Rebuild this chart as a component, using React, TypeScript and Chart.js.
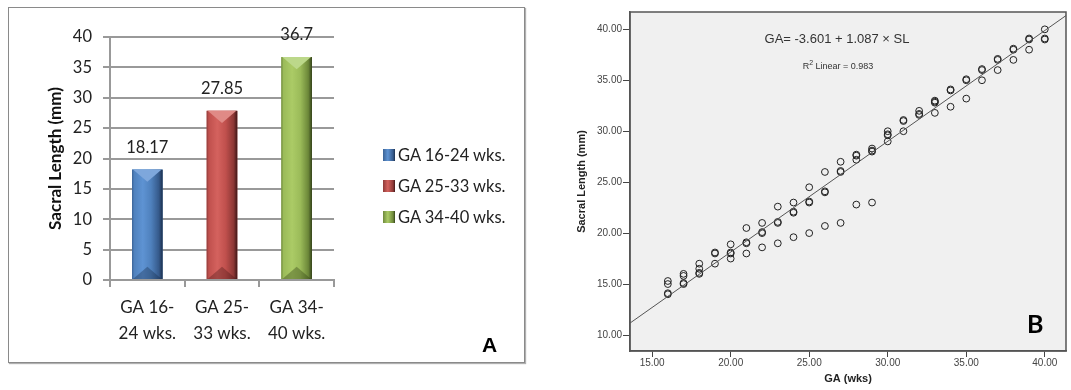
import React, { useEffect, useRef } from "react";
import { Chart, registerables } from "chart.js";

Chart.register(...registerables);

// ---------- Panel A data ----------
const groupLabels = [["GA 16-", "24 wks."], ["GA 25-", "33 wks."], ["GA 34-", "40 wks."]];
const legendLabels = ["GA 16-24 wks.", "GA 25-33 wks.", "GA 34-40 wks."];
const meanSacralLength = [18.17, 27.85, 36.7];
const meanLabels = ["18.17", "27.85", "36.7"];
const barYTicks = [0, 5, 10, 15, 20, 25, 30, 35, 40];

// ---------- Panel B data ----------
const gaWeeks = [
  16, 16, 16, 16,
  17, 17, 17, 17,
  18, 18, 18, 18,
  19, 19, 19,
  20, 20, 20, 20,
  21, 21, 21, 21,
  22, 22, 22, 22,
  23, 23, 23, 23,
  24, 24, 24, 24,
  25, 25, 25, 25,
  26, 26, 26, 26,
  27, 27, 27, 27,
  28, 28, 28, 28,
  29, 29, 29, 29,
  30, 30, 30, 30,
  31, 31, 31,
  32, 32, 32,
  33, 33, 33, 33,
  34, 34, 34,
  35, 35, 35,
  36, 36, 36,
  37, 37, 37,
  38, 38, 38,
  39, 39, 39,
  40, 40, 40,
];
const sacralLengthMm = [
  15.3, 15.0, 14.0, 14.1,
  16.0, 15.8, 15.0, 15.1,
  17.0, 16.5, 16.0, 16.1,
  18.0, 18.1, 17.0,
  18.9, 18.0, 18.1, 17.5,
  20.5, 19.0, 19.1, 18.0,
  21.0, 20.0, 20.1, 18.6,
  22.6, 21.0, 21.1, 19.0,
  23.0, 22.0, 22.1, 19.6,
  24.5, 23.0, 23.1, 20.0,
  26.0, 24.0, 24.1, 20.7,
  27.0, 26.0, 26.1, 21.0,
  27.7, 27.6, 27.2, 22.8,
  28.3, 28.0, 28.1, 23.0,
  30.0, 29.6, 29.7, 29.0,
  31.0, 31.1, 30.0,
  32.0, 31.6, 31.7,
  33.0, 32.8, 32.9, 31.8,
  34.0, 34.1, 32.4,
  35.0, 35.1, 33.2,
  36.0, 36.1, 35.0,
  37.0, 37.1, 36.0,
  38.0, 38.1, 37.0,
  39.0, 39.1, 38.0,
  40.0, 39.0, 39.1,
];
const fitLineGA = [13.59, 41.35];
const fitLineSL = [11.17, 41.35];
const scatterXTicks = [15, 20, 25, 30, 35, 40];
const scatterYTicks = [10, 15, 20, 25, 30, 35, 40];

// ---------- styles ----------
const FONT_A = "Lato, sans-serif";
const FONT_B = '"Liberation Sans", Arial, sans-serif';

const barPalette = [
  { edge: "#3b6396", base: "#4f81bd", light: "#5e93d3", dark: "#35598a", darkest: "#1b2f4c", top: "#7ea7dc", bottom: "rgba(20,40,70,0.35)" },
  { edge: "#8f3b39", base: "#c0504d", light: "#d4625e", dark: "#8c3735", darkest: "#3f1717", top: "#e08a86", bottom: "rgba(70,20,20,0.35)" },
  { edge: "#6f8a3d", base: "#9bbb59", light: "#abcb66", dark: "#6c8739", darkest: "#34421a", top: "#bcd88a", bottom: "rgba(40,55,15,0.35)" },
];

const bevelBars = {
  id: "bevelBars",
  afterDatasetsDraw(chart: any) {
    const ctx = chart.ctx as CanvasRenderingContext2D;
    const meta = chart.getDatasetMeta(0);
    meta.data.forEach((bar: any, i: number) => {
      const { x, y, base, width } = bar.getProps(["x", "y", "base", "width"], true);
      const l = x - width / 2;
      const r = x + width / 2;
      const p = barPalette[i];
      ctx.save();
      const g = ctx.createLinearGradient(l, 0, r, 0);
      g.addColorStop(0, p.edge);
      g.addColorStop(0.07, p.base);
      g.addColorStop(0.35, p.light);
      g.addColorStop(0.62, p.base);
      g.addColorStop(0.88, p.dark);
      g.addColorStop(1, p.darkest);
      ctx.fillStyle = g;
      ctx.fillRect(l, y, width, base - y);
      const h = Math.min(width * 0.4, (base - y) / 2);
      ctx.beginPath();
      ctx.moveTo(l + 1, y);
      ctx.lineTo(r - 1, y);
      ctx.lineTo(x, y + h);
      ctx.closePath();
      ctx.fillStyle = p.top;
      ctx.fill();
      ctx.beginPath();
      ctx.moveTo(l + 1, base);
      ctx.lineTo(r - 1, base);
      ctx.lineTo(x, base - h);
      ctx.closePath();
      ctx.fillStyle = p.bottom;
      ctx.fill();
      ctx.fillStyle = "#222";
      ctx.font = `16.5px ${FONT_A}`;
      ctx.textAlign = "center";
      ctx.textBaseline = "middle";
      ctx.fillText(meanLabels[i], x, y - 22);
      ctx.restore();
    });
  },
};

const plotFrame = {
  id: "plotFrame",
  beforeDraw(chart: any) {
    const { ctx, chartArea: a } = chart;
    ctx.save();
    ctx.fillStyle = "#f0f0f0";
    ctx.fillRect(a.left, a.top, a.right - a.left, a.bottom - a.top);
    ctx.restore();
  },
  afterDatasetsDraw(chart: any) {
    const { ctx, chartArea: a } = chart;
    ctx.save();
    ctx.strokeStyle = "#555";
    ctx.lineWidth = 1.5;
    ctx.strokeRect(a.left, a.top, a.right - a.left, a.bottom - a.top);
    ctx.restore();
  },
};

function BarPanel() {
  const ref = useRef<HTMLCanvasElement>(null);
  useEffect(() => {
    const chart = new Chart(ref.current!, {
      type: "bar",
      data: {
        labels: groupLabels as any,
        datasets: [
          {
            data: meanSacralLength,
            backgroundColor: barPalette.map((p) => p.base),
            barPercentage: 0.41,
            categoryPercentage: 1,
          },
        ],
      },
      options: {
        animation: false,
        responsive: false,
        maintainAspectRatio: false,
        layout: { padding: { left: 32, right: 190, top: 29, bottom: 0 } },
        plugins: { legend: { display: false }, tooltip: { enabled: false } },
        scales: {
          x: {
            grid: { display: true, drawOnChartArea: false, offset: true, tickLength: 7, color: "#999", lineWidth: 2 },
            border: { display: true, color: "#999", width: 2 },
            ticks: { color: "#222", font: { family: FONT_A, size: 17, lineHeight: 1.55 }, padding: 7, maxRotation: 0, autoSkip: false },
            afterFit: (s: any) => { s.height = 82; },
          },
          y: {
            min: 0,
            max: 40,
            afterBuildTicks: (s: any) => { s.ticks = barYTicks.map((v) => ({ value: v })); },
            grid: { color: "#999", lineWidth: 2, tickLength: 7 },
            border: { display: true, color: "#999", width: 2 },
            ticks: { color: "#222", font: { family: FONT_A, size: 16.5 }, padding: 11 },
            title: { display: true, text: "Sacral Length (mm)", color: "#111", font: { family: FONT_A, size: 17, weight: "bold" }, padding: { top: 4, bottom: 4 } },
            afterFit: (s: any) => { s.width = 69; },
          },
        },
      } as any,
      plugins: [bevelBars],
    });
    return () => chart.destroy();
  }, []);
  return <canvas ref={ref} width={515} height={354} style={{ position: "absolute", left: 9, top: 8, width: 515, height: 354 }} />;
}

function ScatterPanel() {
  const ref = useRef<HTMLCanvasElement>(null);
  useEffect(() => {
    const chart = new Chart(ref.current!, {
      type: "scatter",
      data: {
        datasets: [
          {
            type: "line",
            data: fitLineGA.map((x, i) => ({ x, y: fitLineSL[i] })),
            borderColor: "#555",
            borderWidth: 1,
            pointRadius: 0,
            fill: false,
          } as any,
          {
            data: gaWeeks.map((x, i) => ({ x, y: sacralLengthMm[i] })),
            pointRadius: 3.4,
            borderWidth: 1,
            borderColor: "#222",
            backgroundColor: "rgba(0,0,0,0)",
          },
        ],
      },
      options: {
        animation: false,
        responsive: false,
        maintainAspectRatio: false,
        layout: { padding: { left: 31, right: 3, top: 12, bottom: 0 } },
        plugins: { legend: { display: false }, tooltip: { enabled: false } },
        scales: {
          x: {
            type: "linear",
            min: 13.59,
            max: 41.35,
            afterBuildTicks: (s: any) => { s.ticks = scatterXTicks.map((v) => ({ value: v })); },
            grid: { drawOnChartArea: false, tickLength: 6, color: "#444", lineWidth: 1 },
            border: { display: true, color: "#555", width: 1.5 },
            ticks: { callback: (v: any) => Number(v).toFixed(2), color: "#444", font: { family: FONT_B, size: 10 }, padding: 0, maxRotation: 0, autoSkip: false },
            title: { display: true, text: "GA (wks)", color: "#222", font: { family: FONT_B, size: 11, weight: "bold" }, padding: { top: 4, bottom: 4 } },
            afterFit: (s: any) => { s.height = 39; },
          },
          y: {
            type: "linear",
            min: 8.43,
            max: 41.7,
            afterBuildTicks: (s: any) => { s.ticks = scatterYTicks.map((v) => ({ value: v })); },
            grid: { drawOnChartArea: false, tickLength: 7, color: "#444", lineWidth: 1 },
            border: { display: true, color: "#555", width: 1.5 },
            ticks: { callback: (v: any) => Number(v).toFixed(2), color: "#444", font: { family: FONT_B, size: 10 }, padding: 1 },
            title: { display: true, text: "Sacral Length (mm)", color: "#222", font: { family: FONT_B, size: 11, weight: "bold" }, padding: { top: 4, bottom: 4 } },
            afterFit: (s: any) => { s.width = 59; },
          },
        },
      } as any,
      plugins: [plotFrame],
    });
    return () => chart.destroy();
  }, []);
  return <canvas ref={ref} width={531} height={390} style={{ position: "absolute", left: 540, top: 0, width: 531, height: 390 }} />;
}

function swatchStyle(i: number): React.CSSProperties {
  const p = barPalette[i];
  return {
    width: 12,
    height: 12,
    marginRight: 3,
    background: `linear-gradient(90deg, ${p.edge} 0%, ${p.light} 40%, ${p.dark} 85%, ${p.darkest} 100%)`,
    flex: "none",
  };
}

export default function App() {
  const legendCenters = [155, 186, 217];
  return (
    <div style={{ position: "fixed", left: 0, top: 0, width: 1071, height: 390, background: "#fff", overflow: "hidden" }}>
      <div style={{ position: "absolute", left: 8, top: 7, width: 517, height: 356, boxSizing: "border-box", border: "1px solid #8a8a8a", boxShadow: "1px 1px 1px #b0b0b0" }} />
      <BarPanel />
      {legendLabels.map((t, i) => (
        <div key={t} style={{ position: "absolute", left: 383, top: legendCenters[i] - 10, height: 20, display: "flex", alignItems: "center", fontFamily: FONT_A, fontSize: 16.5, color: "#222", whiteSpace: "nowrap" }}>
          <div style={swatchStyle(i)} />
          <span>{t}</span>
        </div>
      ))}
      <div style={{ position: "absolute", left: 482, top: 334, fontFamily: FONT_B, fontWeight: "bold", fontSize: 21, lineHeight: "21px", color: "#000" }}>A</div>
      <ScatterPanel />
      <div style={{ position: "absolute", left: 687, width: 300, top: 31, textAlign: "center", fontFamily: FONT_B, fontSize: 13, lineHeight: "16px", color: "#333", whiteSpace: "nowrap" }}>
        GA= -3.601 + 1.087 × SL
      </div>
      <div style={{ position: "absolute", left: 688, width: 300, top: 57, textAlign: "center", fontFamily: FONT_B, fontSize: 9, lineHeight: "12px", color: "#333", whiteSpace: "nowrap" }}>
        R<sup style={{ fontSize: 7, verticalAlign: "4px" }}>2</sup> Linear = 0.983
      </div>
      <div style={{ position: "absolute", left: 1027, top: 311, fontFamily: FONT_A, fontWeight: "bold", fontSize: 25, lineHeight: "25px", color: "#000" }}>B</div>
    </div>
  );
}
